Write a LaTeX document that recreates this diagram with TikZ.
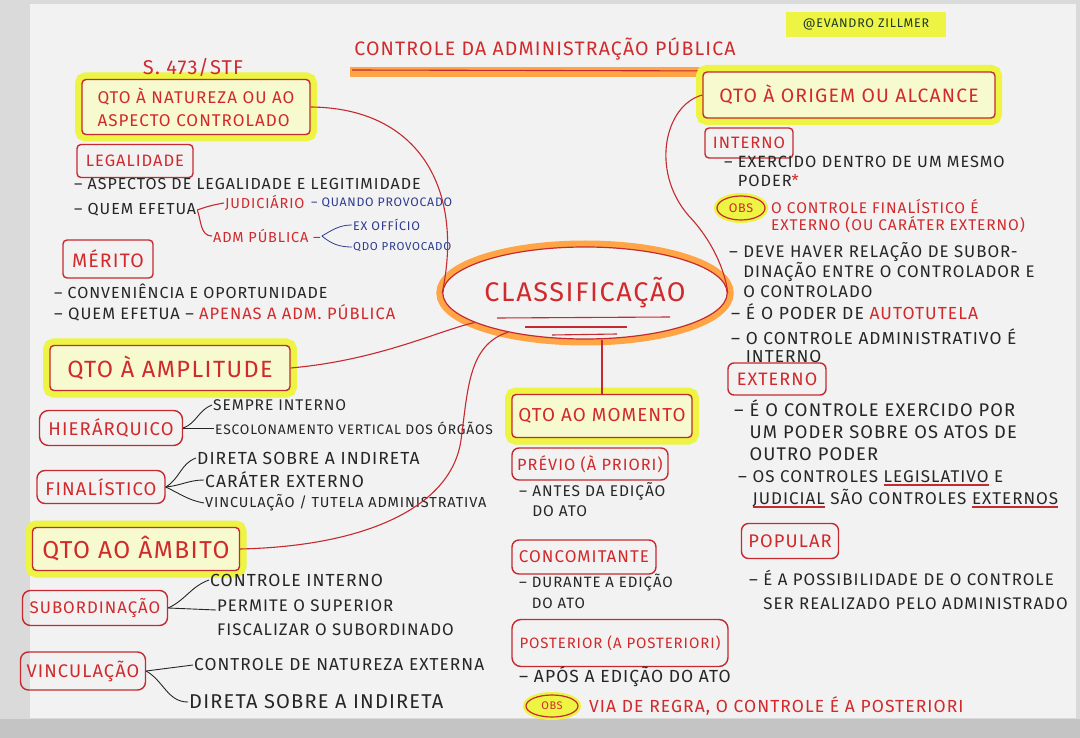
\documentclass[tikz,border=0pt]{standalone}
\usepackage{fontspec}
\setmainfont{Fira Sans}[LetterSpace=6]
\usetikzlibrary{shapes.geometric}
\definecolor{paper}{HTML}{F2F2F2}
\definecolor{edge}{HTML}{DADADA}
\definecolor{floor}{HTML}{C4C4C4}
\definecolor{boxred}{HTML}{C42A30}
\definecolor{txtred}{HTML}{D12A2C}
\definecolor{ink}{HTML}{262626}
\definecolor{blueink}{HTML}{2E3D8F}
\definecolor{hl}{HTML}{EDF443}
\definecolor{hlin}{HTML}{F7F9CF}
\definecolor{orangehl}{HTML}{FFA545}
\definecolor{greenink}{HTML}{1E3A2A}
\newcommand\fsz[2]{\fontsize{#1}{#2}\selectfont}
\newsavebox\ulbox
\newcommand\redul[1]{\leavevmode\sbox\ulbox{#1}\rlap{\textcolor{boxred}{\rule[-3.5pt]{\wd\ulbox}{1.3pt}}}\usebox\ulbox}
\tikzset{
  rbox/.style={draw=boxred, line width=1.4pt, rounded corners=4pt, inner sep=0pt, text=txtred},
  hbox/.style={rbox, fill=hlin, preaction={draw=hl, line width=14pt}},
  txt/.style={anchor=west, inner sep=1pt, text=ink, align=left},
  rtxt/.style={txt, text=txtred},
  btxt/.style={txt, text=blueink},
  link/.style={draw=boxred, line width=1.1pt},
  branch/.style={draw=ink, line width=0.9pt},
  obsnode/.style={ellipse, draw=boxred, line width=1.2pt, fill=hl, inner sep=0pt, text=txtred, preaction={draw=hl, line width=6pt}},
}
\begin{document}
\begin{tikzpicture}[x=1pt,y=-1pt]
\useasboundingbox (0,0) rectangle (1080,738);
% background
\fill[edge] (0,0) rectangle (1080,738);
\fill[paper] (30,4) rectangle (1076,718);
\fill[floor] (0,719) rectangle (1080,738);

% title
\fill[orangehl] (350,67) rectangle (740,77);
\node[txt, anchor=center, text=txtred, font=\fsz{19.5}{22}] (title) at (545,49) {CONTROLE DA ADMINISTRAÇÃO PÚBLICA};
\draw[link] (352,70) -- (736,71);

% author
\fill[hl] (786,12) rectangle (946,37);
\node[txt, anchor=center, text=greenink, font=\fsz{12.5}{14}] (author) at (866,24) {@EVANDRO ZILLMER};

% centre
\node[ellipse, draw=boxred, line width=1.2pt, minimum width=236pt, minimum height=92pt, inner sep=0pt,
      preaction={draw=orangehl, line width=13pt}, fill=paper, text=txtred, font=\fsz{27}{30}] (cls) at (585,293) {\raisebox{5pt}{CLASSIFICAÇÃO}};
\draw[link] (497,318) -- (670,317);
\draw[link] (525,327) -- (627,327);
\draw[link] (552,335) -- (617,334);

% ---------- left: natureza
\node[hbox, minimum width=228pt, minimum height=55pt, align=left, font=\fsz{17}{23}] (nat) at (196,107) {QTO À NATUREZA OU AO\\ASPECTO CONTROLADO};
\node[rtxt, anchor=center, font=\fsz{20}{22}] (sumula) at (193,67) {S. 473/STF};
\node[rbox, minimum width=116pt, minimum height=33pt, font=\fsz{16.5}{18}] (leg) at (135,161) {LEGALIDADE};
\node[txt, font=\fsz{16}{18}] (leg1) at (73,184) {– ASPECTOS DE LEGALIDADE E LEGITIMIDADE};
\node[txt, font=\fsz{16}{18}] (leg2) at (73,210) {– QUEM EFETUA};
\node[rtxt, font=\fsz{14.5}{16}] (jud) at (224,203) {JUDICIÁRIO};
\node[btxt, font=\fsz{12.3}{14}] (judq) at (310,203) {– QUANDO PROVOCADO};
\node[rtxt, font=\fsz{14.5}{16}] (adm) at (212,236) {ADM PÚBLICA –};
\node[btxt, font=\fsz{12.5}{15}] (exo) at (352,225) {EX OFFÍCIO};
\node[btxt, font=\fsz{11.5}{14}] (qdo) at (352,247) {QDO PROVOCADO};
\draw[link] (leg2.east) to[out=20,in=190] (jud.west);
\draw[link] (leg2.east) to[out=-70,in=180] (adm.west);
\draw[draw=blueink, line width=0.8pt] (adm.east) to[out=30,in=180] (exo.west);
\draw[draw=blueink, line width=0.8pt] (adm.east) to[out=-40,in=180] (qdo.west);

\node[rbox, minimum width=90pt, minimum height=38pt, font=\fsz{19.5}{21}] (mer) at (108,259) {MÉRITO};
\node[txt, font=\fsz{16}{18}] (mer1) at (53,291) {– CONVENIÊNCIA E OPORTUNIDADE};
\node[txt, font=\fsz{16.5}{18}] (mer2) at (53,313) {– QUEM EFETUA – \textcolor{txtred}{APENAS A ADM. PÚBLICA}};

% ---------- left: amplitude
\node[hbox, minimum width=240pt, minimum height=45pt, font=\fsz{23.5}{26}] (amp) at (170,368) {QTO À AMPLITUDE};
\node[rbox, rounded corners=9pt, minimum width=143pt, minimum height=35pt, font=\fsz{18.5}{20}] (hie) at (111,428) {HIERÁRQUICO};
\node[txt, font=\fsz{15.5}{17}] (hie1) at (212,405) {SEMPRE INTERNO};
\node[txt, font=\fsz{13.8}{16}] (hie2) at (214,428) {ESCOLONAMENTO VERTICAL DOS ÓRGÃOS};
\draw[branch] (hie.east) to[out=20,in=200] (hie1.west);
\draw[branch] (hie.east) -- (hie2.west);

\node[rbox, rounded corners=8pt, minimum width=128pt, minimum height=33pt, font=\fsz{18.5}{20}] (fin) at (101,487) {FINALÍSTICO};
\node[txt, font=\fsz{17.5}{19}] (fin1) at (196,458) {DIRETA SOBRE A INDIRETA};
\node[txt, font=\fsz{17.5}{19}] (fin2) at (204,480) {CARÁTER EXTERNO};
\node[txt, font=\fsz{14.5}{16}] (fin3) at (204,503) {VINCULAÇÃO / TUTELA ADMINISTRATIVA};
\draw[branch] (fin.east) to[out=30,in=200] (fin1.west);
\draw[branch] (fin.east) to[out=5,in=180] (fin2.west);
\draw[branch] (fin.east) to[out=-25,in=170] (fin3.west);

% ---------- left: ambito
\node[hbox, minimum width=207pt, minimum height=43pt, font=\fsz{24.5}{26}] (amb) at (136,549) {QTO AO ÂMBITO};
\node[rbox, rounded corners=8pt, minimum width=145pt, minimum height=35pt, font=\fsz{16.8}{18}] (sub) at (95,608) {SUBORDINAÇÃO};
\node[txt, font=\fsz{17.5}{19}] (sub1) at (209,580) {CONTROLE INTERNO};
\coordinate (sub2a) at (216,610);
\node[txt, anchor=north west, font=\fsz{16.8}{24}] (sub2) at (216,599) {PERMITE O SUPERIOR\\FISCALIZAR O SUBORDINADO};
\draw[branch] (sub.east) to[out=25,in=200] (sub1.west);
\draw[branch] (sub.east) -- (sub2a);

\node[rbox, rounded corners=8pt, minimum width=125pt, minimum height=38pt, font=\fsz{18.3}{20}] (vin) at (83,671) {VINCULAÇÃO};
\node[txt, font=\fsz{17.3}{19}] (vin1) at (193,665) {CONTROLE DE NATUREZA EXTERNA};
\node[txt, font=\fsz{20}{22}] (vin2) at (188,702) {DIRETA SOBRE A INDIRETA};
\draw[branch] (vin.east) -- (vin1.west);
\draw[branch] (vin.east) to[out=-30,in=180] (vin2.west);

% ---------- middle: momento
\node[hbox, minimum width=180pt, minimum height=43pt, font=\fsz{18.8}{20}] (mom) at (602,416) {QTO AO MOMENTO};
\node[rbox, rounded corners=7pt, minimum width=156pt, minimum height=32pt, font=\fsz{16.3}{18}] (pre) at (590,464) {PRÉVIO (À PRIORI)};
\node[txt, font=\fsz{15.5}{20}] (pre1) at (518,500) {– ANTES DA EDIÇÃO\\\phantom{– }DO ATO};
\node[rbox, rounded corners=7pt, minimum width=144pt, minimum height=34pt, font=\fsz{17}{19}] (con) at (584,557) {CONCOMITANTE};
\node[txt, font=\fsz{15}{21}] (con1) at (518,591) {– DURANTE A EDIÇÃO\\\phantom{– }DO ATO};
\node[rbox, rounded corners=9pt, minimum width=216pt, minimum height=47pt, font=\fsz{15}{17}] (pos) at (620,643) {POSTERIOR (A POSTERIORI)};
\node[txt, font=\fsz{17.5}{19}] (pos1) at (518,677) {– APÓS A EDIÇÃO DO ATO};
\node[obsnode, minimum width=52pt, minimum height=22pt, font=\fsz{11}{12}] (obs2) at (552,706) {OBS};
\node[rtxt, font=\fsz{17.5}{19}] (obs2t) at (588,706) {VIA DE REGRA, O CONTROLE É A POSTERIORI};

% ---------- right: origem
\node[hbox, minimum width=292pt, minimum height=46pt, font=\fsz{19.4}{21}] (ori) at (849,95) {QTO À ORIGEM OU ALCANCE};
\node[rbox, minimum width=88pt, minimum height=30pt, font=\fsz{16.5}{18}] (int) at (749,143) {INTERNO};
\node[txt, font=\fsz{16.3}{19}] (int1) at (723,171) {– EXERCIDO DENTRO DE UM MESMO\\\phantom{– }PODER\textcolor{txtred}{*}};
\node[obsnode, minimum width=48pt, minimum height=24pt, font=\fsz{12.5}{13}] (obs1) at (741,208) {OBS};
\node[rtxt, font=\fsz{15.5}{17}] (obs1t) at (770,216) {O CONTROLE FINALÍSTICO É\\EXTERNO (OU CARÁTER EXTERNO)};
\node[txt, font=\fsz{16.8}{20}] (int2) at (728,270) {– DEVE HAVER RELAÇÃO DE SUBOR-\\\phantom{– }DINAÇÃO ENTRE O CONTROLADOR E\\\phantom{– }O CONTROLADO};
\node[txt, font=\fsz{17.5}{19}] (int3) at (730,312) {– É O PODER DE \textcolor{txtred}{AUTOTUTELA}};
\node[txt, font=\fsz{17.3}{18}] (int4) at (730,346) {– O CONTROLE ADMINISTRATIVO É\\\phantom{– }INTERNO};

\node[rbox, rounded corners=6pt, minimum width=98pt, minimum height=32pt, font=\fsz{18}{20}] (ext) at (777,379) {EXTERNO};
\node[txt, font=\fsz{18.3}{22}] (ext1) at (733,430) {– É O CONTROLE EXERCIDO POR\\\phantom{– }UM PODER SOBRE OS ATOS DE\\\phantom{– }OUTRO PODER};
\node[txt, font=\fsz{17}{22}] (ext2) at (737,489) {– OS CONTROLES \redul{LEGISLATIVO} E\\\phantom{– }\redul{JUDICIAL} SÃO CONTROLES \redul{EXTERNOS}};

\node[rbox, rounded corners=7pt, minimum width=97pt, minimum height=35pt, font=\fsz{18.3}{20}] (pop) at (790,541) {POPULAR};
\node[txt, font=\fsz{16.8}{24}] (pop1) at (748,590) {– É A POSSIBILIDADE DE O CONTROLE\\\phantom{– }SER REALIZADO PELO ADMINISTRADO};

% ---------- connectors to the centre
\draw[link] (nat.east) .. controls (420,108) and (464,190) .. (cls.west);
\draw[link] (amp.east) .. controls (380,360) and (440,330) .. (cls.195);
\draw[link] (amb.east) .. controls (370,546) and (452,505) .. (461,440) .. controls (468,390) and (468,345) .. (cls.207);
\draw[link] (cls.east) .. controls (725,270) and (712,240) .. (688,215) .. controls (650,170) and (665,105) .. (ori.west);
\draw[link] (cls.south -| mom.north) -- (mom.north);
\end{tikzpicture}
\end{document}
